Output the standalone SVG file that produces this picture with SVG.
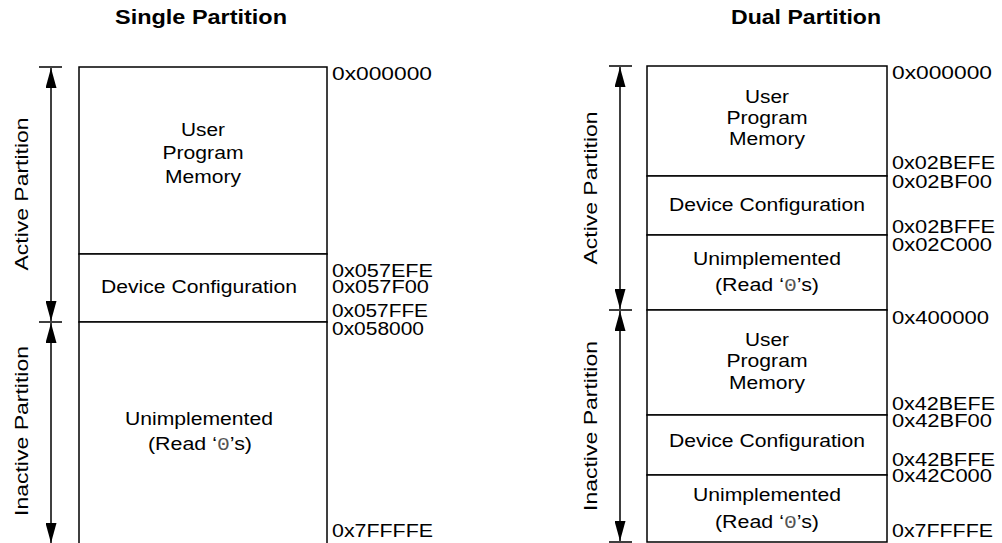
<svg xmlns="http://www.w3.org/2000/svg" width="1002" height="543" viewBox="0 0 1002 543">
<style>
text{font-family:"Liberation Sans",Arial,sans-serif;font-size:17.5px;fill:#000}
.t{font-weight:bold;font-size:19.5px}
.c{text-anchor:middle}
.cell{fill:#fff;stroke:#000;stroke-width:1.5}
.ln{stroke:#000;stroke-width:1.5;fill:none}
.mono{font-family:"Liberation Mono","DejaVu Sans Mono",monospace;fill:#555}
</style>
<defs>
<marker id="ah" markerUnits="userSpaceOnUse" markerWidth="20" markerHeight="11" refX="20" refY="5.5" orient="auto-start-reverse" viewBox="0 0 20 11">
<path d="M0,0 L20,5.5 L0,11 z" fill="#000"/>
</marker>
</defs>
<rect width="1002" height="543" fill="#fff"/>
<g id="titles">
<text class="t c" x="201" y="24" textLength="172" lengthAdjust="spacingAndGlyphs">Single Partition</text>
<text class="t c" x="806" y="24" textLength="150" lengthAdjust="spacingAndGlyphs">Dual Partition</text>
</g>
<g id="single-user">
<rect class="cell" x="79" y="67" width="248" height="187"/>
<text class="c" x="203" y="136" textLength="44" lengthAdjust="spacingAndGlyphs">User</text>
<text class="c" x="203" y="159" textLength="81" lengthAdjust="spacingAndGlyphs">Program</text>
<text class="c" x="203" y="183" textLength="76" lengthAdjust="spacingAndGlyphs">Memory</text>
</g>
<g id="single-config">
<rect class="cell" x="79" y="254" width="248" height="68"/>
<text class="c" x="199" y="293" textLength="196" lengthAdjust="spacingAndGlyphs">Device Configuration</text>
</g>
<g id="single-unimpl">
<rect class="cell" x="79" y="322" width="248" height="240"/>
<text class="c" x="199" y="425" textLength="148" lengthAdjust="spacingAndGlyphs">Unimplemented</text>
<text class="c" x="200" y="450" textLength="104" lengthAdjust="spacingAndGlyphs">(Read ‘<tspan class="mono">0</tspan>’s)</text>
</g>
<g id="single-addresses">
<text x="332" y="80" textLength="100" lengthAdjust="spacingAndGlyphs">0x000000</text>
<text x="332" y="277" textLength="101" lengthAdjust="spacingAndGlyphs">0x057EFE</text>
<text x="332" y="293" textLength="97" lengthAdjust="spacingAndGlyphs">0x057F00</text>
<text x="332" y="317" textLength="96" lengthAdjust="spacingAndGlyphs">0x057FFE</text>
<text x="332" y="334.5" textLength="92" lengthAdjust="spacingAndGlyphs">0x058000</text>
<text x="332" y="537" textLength="101" lengthAdjust="spacingAndGlyphs">0x7FFFFE</text>
</g>
<g id="dual-user-active">
<rect class="cell" x="647" y="66" width="240" height="110"/>
<text class="c" x="767" y="103" textLength="44" lengthAdjust="spacingAndGlyphs">User</text>
<text class="c" x="767" y="124" textLength="81" lengthAdjust="spacingAndGlyphs">Program</text>
<text class="c" x="767" y="145" textLength="76" lengthAdjust="spacingAndGlyphs">Memory</text>
</g>
<g id="dual-config-active">
<rect class="cell" x="647" y="176" width="240" height="59"/>
<text class="c" x="767" y="211" textLength="196" lengthAdjust="spacingAndGlyphs">Device Configuration</text>
</g>
<g id="dual-unimpl-active">
<rect class="cell" x="647" y="235" width="240" height="75"/>
<text class="c" x="767" y="265" textLength="148" lengthAdjust="spacingAndGlyphs">Unimplemented</text>
<text class="c" x="767" y="291" textLength="104" lengthAdjust="spacingAndGlyphs">(Read ‘<tspan class="mono">0</tspan>’s)</text>
</g>
<g id="dual-user-inactive">
<rect class="cell" x="647" y="310" width="240" height="105"/>
<text class="c" x="767" y="346" textLength="44" lengthAdjust="spacingAndGlyphs">User</text>
<text class="c" x="767" y="367" textLength="81" lengthAdjust="spacingAndGlyphs">Program</text>
<text class="c" x="767" y="389" textLength="76" lengthAdjust="spacingAndGlyphs">Memory</text>
</g>
<g id="dual-config-inactive">
<rect class="cell" x="647" y="415" width="240" height="60"/>
<text class="c" x="767" y="447" textLength="196" lengthAdjust="spacingAndGlyphs">Device Configuration</text>
</g>
<g id="dual-unimpl-inactive">
<rect class="cell" x="647" y="475" width="240" height="67"/>
<text class="c" x="767" y="501" textLength="148" lengthAdjust="spacingAndGlyphs">Unimplemented</text>
<text class="c" x="767" y="528" textLength="104" lengthAdjust="spacingAndGlyphs">(Read ‘<tspan class="mono">0</tspan>’s)</text>
</g>
<g id="dual-addresses">
<text x="892" y="79" textLength="100" lengthAdjust="spacingAndGlyphs">0x000000</text>
<text x="892" y="169" textLength="103" lengthAdjust="spacingAndGlyphs">0x02BEFE</text>
<text x="892" y="188" textLength="100" lengthAdjust="spacingAndGlyphs">0x02BF00</text>
<text x="892" y="233" textLength="103" lengthAdjust="spacingAndGlyphs">0x02BFFE</text>
<text x="892" y="250.5" textLength="100" lengthAdjust="spacingAndGlyphs">0x02C000</text>
<text x="892" y="324" textLength="97" lengthAdjust="spacingAndGlyphs">0x400000</text>
<text x="892" y="410" textLength="103" lengthAdjust="spacingAndGlyphs">0x42BEFE</text>
<text x="892" y="426.5" textLength="100" lengthAdjust="spacingAndGlyphs">0x42BF00</text>
<text x="892" y="466" textLength="103" lengthAdjust="spacingAndGlyphs">0x42BFFE</text>
<text x="892" y="481.5" textLength="100" lengthAdjust="spacingAndGlyphs">0x42C000</text>
<text x="892" y="537" textLength="101" lengthAdjust="spacingAndGlyphs">0x7FFFFE</text>
</g>
<g id="partition-labels">
<text class="c" transform="translate(28,194) rotate(-90)" textLength="153" lengthAdjust="spacingAndGlyphs">Active Partition</text>
<text class="c" transform="translate(28,431) rotate(-90)" textLength="170" lengthAdjust="spacingAndGlyphs">Inactive Partition</text>
<text class="c" transform="translate(597,188) rotate(-90)" textLength="153" lengthAdjust="spacingAndGlyphs">Active Partition</text>
<text class="c" transform="translate(597,426) rotate(-90)" textLength="170" lengthAdjust="spacingAndGlyphs">Inactive Partition</text>
</g>
<g id="connectors">
<path class="ln" d="M39,67 H62 M39,322 H62 M609,66 H632 M609,310 H632 M609,542 H632"/>
<path class="ln" d="M51,68 V321" marker-start="url(#ah)" marker-end="url(#ah)"/>
<path class="ln" d="M51,323 V543" marker-start="url(#ah)" marker-end="url(#ah)"/>
<path class="ln" d="M620,67 V309" marker-start="url(#ah)" marker-end="url(#ah)"/>
<path class="ln" d="M620,311 V541" marker-start="url(#ah)" marker-end="url(#ah)"/>
</g>
</svg>
